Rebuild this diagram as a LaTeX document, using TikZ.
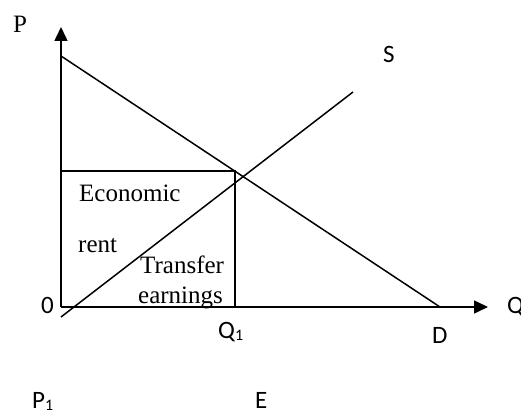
\documentclass[tikz,border=0pt]{standalone}
\usepackage{fontspec}
\setmainfont{Liberation Serif}
\newfontfamily\calib{Carlito}
\usetikzlibrary{arrows.meta}
\newcommand{\subone}{\raisebox{-2pt}{\fontsize{16}{16}\selectfont 1}}
\begin{document}
\begin{tikzpicture}[x=1pt,y=-1pt,
  curve/.style={line width=1.5pt},
  axis/.style={line width=1.5pt,-{Triangle[length=14pt,width=13pt]}},
  serif/.style={inner sep=0pt,anchor=base west,font=\fontsize{25}{30}\selectfont},
  sans/.style={inner sep=0pt,anchor=base west,font=\calib\fontsize{25}{30}\selectfont}]
\useasboundingbox (0,0) rectangle (521,411);
% coordinates
\coordinate (O) at (61,307);
\coordinate (Ptop) at (61,27);
\coordinate (Qend) at (488,307);
\coordinate (Dtop) at (61,56);
\coordinate (Dend) at (440,307);
\coordinate (Sstart) at (61,317);
\coordinate (Send) at (353,92);
\coordinate (E1) at (61,171);
\coordinate (E2) at (235,171);
\coordinate (Q1c) at (235,307);
% axes
\draw[axis] (O) -- (Ptop);
\draw[axis] (O) -- (Qend);
% curves
\draw[curve] (Dtop) -- (Dend);
\draw[curve] (Sstart) -- (Send);
\draw[curve] (E1) -- (E2) -- (Q1c);
% labels
\node[serif] (lP) at (13,33) {P};
\node[sans] (lS) at (383,63) {S};
\node[sans] (l0) at (41,313) {0};
\node[sans] (lQ) at (507,313) {Q};
\node[sans] (lQ1) at (218,338) {Q\subone};
\node[sans] (lD) at (432,343) {D};
\node[sans] (lP1) at (32,408) {P\subone};
\node[sans] (lE) at (255,408) {E};
\node[serif] (lEc) at (79,202) {Economic};
\node[serif] (lrent) at (78,252) {rent};
\node[serif] (lTr) at (140,273) {Transfer};
\node[serif] (lEa) at (138,303) {earnings};
\end{tikzpicture}
\end{document}
